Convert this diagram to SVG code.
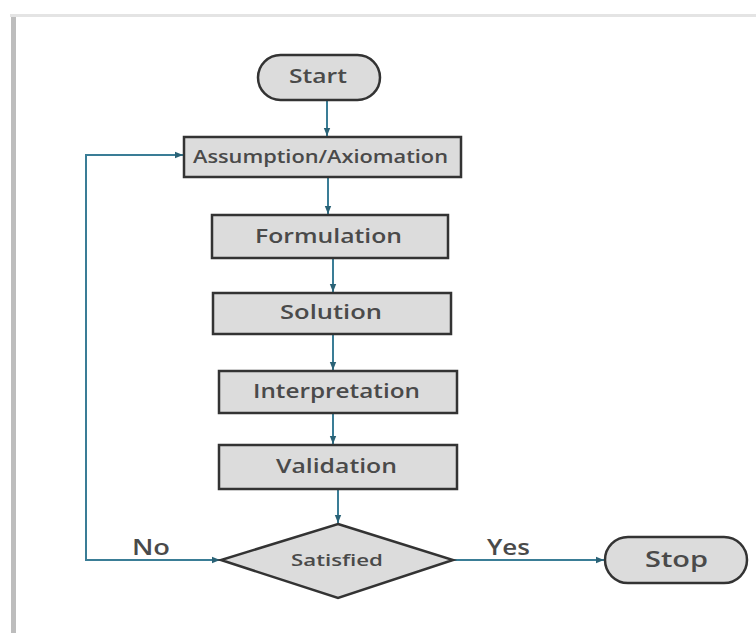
<svg xmlns="http://www.w3.org/2000/svg" width="756" height="633" viewBox="0 0 756 633">
<style>
.box{fill:#dcdcdc;stroke:#333;stroke-width:2.5}
.lbl{font-family:"Open Sans","Liberation Sans",sans-serif;font-weight:600;fill:#4a4a4a;text-anchor:middle}
.con{fill:none;stroke:#3a7d96;stroke-width:2}
.edge{font-family:"Open Sans","Liberation Sans",sans-serif;font-weight:600;fill:#4a4a4a;font-size:21px}
</style>
<defs>
<marker id="ah" viewBox="0 0 10 10" refX="10" refY="5" markerWidth="4" markerHeight="4" orient="auto-start-reverse" markerUnits="strokeWidth">
<path d="M0,1 L10,5 L0,9 Z" fill="#2a6276"/>
</marker>
</defs>
<rect x="0" y="0" width="756" height="633" fill="#fff"/>
<rect x="10" y="14" width="746" height="3" fill="#e4e4e4"/>
<rect x="11" y="17" width="5" height="616" fill="#bdbdbd"/>

<g id="connectors">
<path class="con" d="M327,100 L327,136" marker-end="url(#ah)"/>
<path class="con" d="M328,177 L328,214" marker-end="url(#ah)"/>
<path class="con" d="M333,258 L333,292" marker-end="url(#ah)"/>
<path class="con" d="M333,334 L333,370" marker-end="url(#ah)"/>
<path class="con" d="M333,413 L333,444" marker-end="url(#ah)"/>
<path class="con" d="M338,489 L338,523" marker-end="url(#ah)"/>
<path class="con" d="M453,560 L604,560" marker-end="url(#ah)"/>
<path class="con" d="M220,560 L86,560 L86,155 L183,155" marker-start="url(#ah)" marker-end="url(#ah)"/>
<text class="edge" x="132" y="555" textLength="38" lengthAdjust="spacingAndGlyphs">No</text>
<text class="edge" x="487" y="555" textLength="43" lengthAdjust="spacingAndGlyphs">Yes</text>
</g>

<g id="start">
<rect class="box" x="258" y="55" width="122" height="45" rx="22.5"/>
<text class="lbl" x="318" y="83" font-size="19" textLength="58" lengthAdjust="spacingAndGlyphs">Start</text>
</g>
<g id="assumption">
<rect class="box" x="184" y="137" width="277" height="40"/>
<text class="lbl" x="320.5" y="163" font-size="18" textLength="255" lengthAdjust="spacingAndGlyphs">Assumption/Axiomation</text>
</g>
<g id="formulation">
<rect class="box" x="212" y="215" width="236" height="43"/>
<text class="lbl" x="328.5" y="243" font-size="19" textLength="147" lengthAdjust="spacingAndGlyphs">Formulation</text>
</g>
<g id="solution">
<rect class="box" x="213" y="293" width="238" height="41"/>
<text class="lbl" x="331" y="319" font-size="19" textLength="102" lengthAdjust="spacingAndGlyphs">Solution</text>
</g>
<g id="interpretation">
<rect class="box" x="219" y="371" width="238" height="42"/>
<text class="lbl" x="336.5" y="398" font-size="19" textLength="167" lengthAdjust="spacingAndGlyphs">Interpretation</text>
</g>
<g id="validation">
<rect class="box" x="219" y="445" width="238" height="44"/>
<text class="lbl" x="336.5" y="473" font-size="19" textLength="121" lengthAdjust="spacingAndGlyphs">Validation</text>
</g>
<g id="satisfied">
<polygon class="box" points="338,524 453,560 338,598 221,560"/>
<text class="lbl" x="337" y="566" font-size="16" textLength="92" lengthAdjust="spacingAndGlyphs">Satisfied</text>
</g>
<g id="stop">
<rect class="box" x="605" y="537" width="142" height="46" rx="23"/>
<text class="lbl" x="676.5" y="567" font-size="22" textLength="63" lengthAdjust="spacingAndGlyphs">Stop</text>
</g>
</svg>
